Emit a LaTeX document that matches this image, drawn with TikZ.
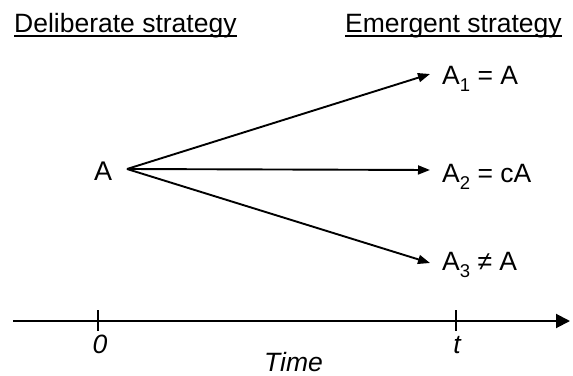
\documentclass[tikz,border=0pt]{standalone}
\usepackage{fontspec}
\setmainfont{Liberation Sans}
\usetikzlibrary{arrows.meta}
\tikzset{
  big/.style={font=\fontsize{26.5}{28}\selectfont, inner sep=0pt},
  lab/.style={font=\fontsize{26.5}{28}\selectfont, inner sep=0pt},
  axlab/.style={font=\fontsize{26.5}{28}\selectfont\itshape, inner sep=0pt},
  conn/.style={line width=1.9pt, -{Triangle[length=12pt,width=9pt]}},
  axis/.style={line width=2pt, -{Triangle[length=14pt,width=14pt]}},
  tick/.style={line width=1.5pt},
  uline/.style={line width=1.8pt}
}
\newcommand{\subs}[1]{\raisebox{-7.5pt}{\fontsize{18.5}{18.5}\selectfont #1}}
\begin{document}
\begin{tikzpicture}[x=1pt,y=-1pt]
\useasboundingbox (0,0) rectangle (573,375);
% headings
\node[big, anchor=base west] (h1) at (14,32) {Deliberate strategy};
\node[big, anchor=base west] (h2) at (345,32) {Emergent strategy};
\draw[uline] ([yshift=-4pt]h1.base west) -- ([yshift=-4pt]h1.base east);
\draw[uline] ([yshift=-4pt]h2.base west) -- ([yshift=-4pt]h2.base east);
% origin and outcomes
\node[big, font=\fontsize{27}{28}\selectfont, anchor=base west] (a) at (94,180) {A};
\node[lab, anchor=base west] (a1) at (442,84) {A\subs{1} = A};
\node[lab, anchor=base west] (a2) at (442,182) {A\subs{2} = cA};
\node[lab, anchor=base west] (a3) at (442,270) {A\subs{3} ≠ A};
\coordinate (s) at (127,169);
\coordinate (e1) at (430,74);
\coordinate (e2) at (430,170);
\coordinate (e3) at (430,263);
\draw[conn] (s) -- (e1);
\draw[conn] (s) -- (e2);
\draw[conn] (s) -- (e3);
% time axis
\coordinate (ax0) at (13,321);
\coordinate (ax1) at (570,321);
\draw[axis] (ax0) -- (ax1);
\coordinate (t0) at (98,321);
\coordinate (tt) at (456,321);
\draw[tick] ([yshift=11pt]t0) -- ([yshift=-10pt]t0);
\draw[tick] ([yshift=11pt]tt) -- ([yshift=-10pt]tt);
\node[axlab, anchor=base] (l0) at (100,353) {0};
\node[axlab, anchor=base] (lt) at (457,353) {t};
\node[axlab, anchor=base west] (lT) at (264,371) {Time};
\end{tikzpicture}
\end{document}
